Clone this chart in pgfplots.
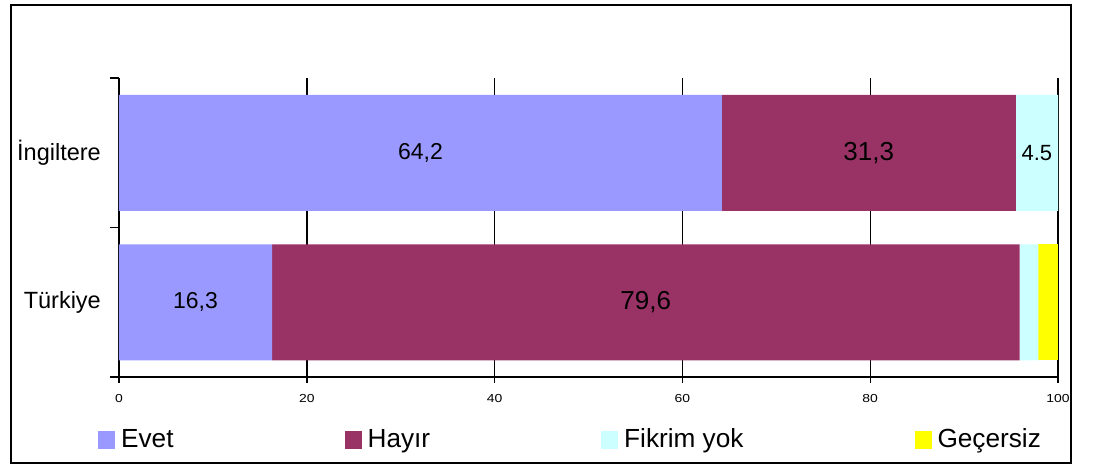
\documentclass[border=0pt]{standalone}
\usepackage{fontspec}
\setmainfont{Liberation Sans}
\usepackage{graphicx}
\usepackage{pgfplots}
\usepackage{pgfplotstable}
\pgfplotsset{compat=1.18}

\definecolor{evet}{HTML}{9999FF}
\definecolor{hayir}{HTML}{993366}
\definecolor{fikrim}{HTML}{CCFFFF}
\definecolor{gecersiz}{HTML}{FFFF00}

\newcommand\fs[1]{\fontsize{#1}{#1}\selectfont}

% y: 0 = Türkiye, 1 = İngiltere
\pgfplotstableread{
y  val   lbl
1  64.2  64,2
0  16.3  16,3
}\evet
\pgfplotstableread{
y  val   lbl
1  31.3  31,3
0  79.6  79,6
}\hayir
\pgfplotstableread{
y  val  lbl
1  4.5  4.5
0  2.0  {}
}\fikrim
\pgfplotstableread{
y  val
1  0.0
0  2.1
}\gecersiz

\begin{document}
\begin{tikzpicture}[x=1pt,y=1pt]
\useasboundingbox (-119,-92) rectangle (975,377);
\draw[line width=2pt] (-108,-86) rectangle (952,372);
\begin{axis}[
  at={(0,0)}, anchor=south west,
  scale only axis, width=939pt, height=299pt,
  xbar stacked, bar width=116pt,
  xmin=0, xmax=100, ymin=-0.5, ymax=1.5,
  axis x line*=bottom, axis y line*=left,
  axis line style={line width=1.6pt, -},
  xmajorgrids, grid style={black, line width=1.4pt},
  tick style={black, line width=1.4pt},
  tick align=outside, major tick length=9pt,
  xtick={0,20,...,100},
  x tick style={yshift=3.5pt},
  /pgf/number format/assume math mode=true,
  xticklabel={\scalebox{1.2}[1]{\pgfmathprintnumber{\tick}}},
  xticklabel style={font=\fs{11.6}, yshift=-5pt},
  ytick={-0.5,0.5,1.5}, yticklabels={},
  extra y ticks={0,1},
  extra y tick labels={Türkiye,İngiltere},
  extra y tick style={major tick length=0pt, tick style={draw=none}},
  yticklabel style={font=\fs{23.5}, inner sep=0pt, xshift=-18pt},
  every node near coord/.append style={anchor=center, text=black},
  legend columns=4,
  legend image code/.code={\fill[#1,draw=none] (0pt,-11pt) rectangle (17pt,7pt);},
  legend style={at={(-0.0224,-0.2074)}, anchor=west, draw=none, fill=none,
    inner sep=0pt, font=\fs{26.2},
    nodes={inner sep=0pt, text height=18.8pt, text depth=0pt},
    cells={anchor=west}, column sep=6pt,
    /tikz/every even column/.append style={column sep=171pt}},
]
\addplot[fill=evet, draw=none, point meta=explicit symbolic, nodes near coords,
  nodes near coords style={font=\fs{23}}]
  table[x=val, y=y, meta=lbl] {\evet};
\addlegendentry{Evet}
\addplot[fill=hayir, draw=none, point meta=explicit symbolic, nodes near coords,
  nodes near coords style={font=\fs{26}}]
  table[x=val, y=y, meta=lbl] {\hayir};
\addlegendentry{Hayır}
\addplot[fill=fikrim, draw=none, point meta=explicit symbolic, nodes near coords,
  nodes near coords style={font=\fs{22}}]
  table[x=val, y=y, meta=lbl] {\fikrim};
\addlegendentry{Fikrim yok}
\addplot[fill=gecersiz, draw=none] table[x=val, y=y] {\gecersiz};
\addlegendentry{Geçersiz}
\end{axis}
\end{tikzpicture}
\end{document}
